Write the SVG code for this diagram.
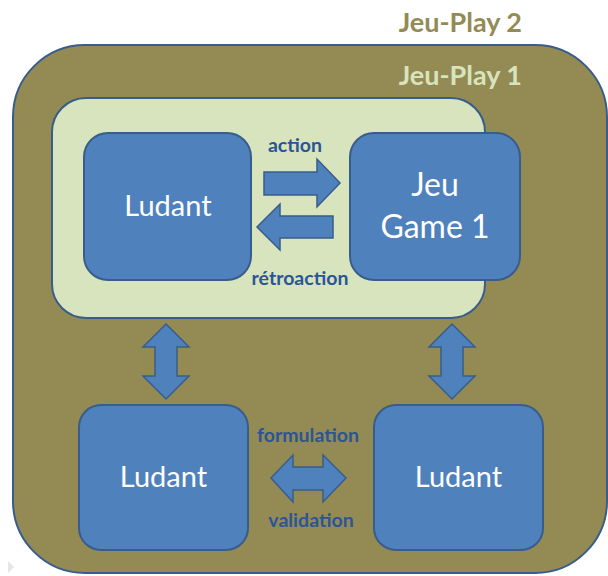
<svg xmlns="http://www.w3.org/2000/svg" width="608" height="576" viewBox="0 0 608 576">
<style>
.box{fill:#4F81BD;stroke:#385D8A;stroke-width:2}
.arr{fill:#4F81BD;stroke:#385D8A;stroke-width:1.5;stroke-linejoin:miter}
.lbl{font-family:Lato,"Open Sans",sans-serif;font-weight:bold;font-size:19.5px;fill:#2C5596;text-anchor:middle}
.nt{font-family:Lato,"Open Sans",sans-serif;font-size:29px;fill:#FFFFFF;text-anchor:middle}
.nt2{font-family:Lato,"Open Sans",sans-serif;font-size:32px;fill:#FFFFFF;text-anchor:middle}
.ttl{font-family:Lato,"Open Sans",sans-serif;font-weight:bold;font-size:27px;text-anchor:end}
</style>
<rect width="608" height="576" fill="#FFFFFF"/>
<g id="play2">
<rect x="13" y="45" width="594" height="528" rx="72" fill="#948A54" stroke="#385D8A" stroke-width="2"/>
<text class="ttl" x="522" y="32" fill="#948A54">Jeu-Play 2</text>
</g>
<g id="play1">
<rect x="52" y="98" width="433" height="220" rx="34" fill="#D7E4BD" stroke="#385D8A" stroke-width="2"/>
<text class="ttl" x="522" y="85" fill="#D7E4BD">Jeu-Play 1</text>
</g>
<g id="ludant1">
<rect class="box" x="84" y="133" width="167" height="147" rx="24"/>
<text class="nt" x="168" y="216">Ludant</text>
</g>
<g id="jeu">
<rect class="box" x="350" y="133" width="170" height="147" rx="24"/>
<text class="nt2" x="435" y="196">Jeu</text>
<text class="nt2" x="435" y="238">Game 1</text>
</g>
<g id="ludant2">
<rect class="box" x="79" y="405" width="169" height="145" rx="22"/>
<text class="nt" x="163.5" y="487">Ludant</text>
</g>
<g id="ludant3">
<rect class="box" x="374" y="405" width="169" height="145" rx="22"/>
<text class="nt" x="458.5" y="487">Ludant</text>
</g>
<g id="connectors">
<polygon class="arr" points="264,172 317,172 317,159 340,183 317,207 317,195 264,195"/>
<polygon class="arr" points="333,216 280,216 280,204 257,227 280,250 280,238 333,238"/>
<polygon class="arr" points="166,324 189,347 177,347 177,376 189,376 166,399 143,376 155,376 155,347 143,347"/>
<polygon class="arr" points="452,324 475,347 463,347 463,376 475,376 452,399 429,376 441,376 441,347 429,347"/>
<polygon class="arr" points="271,478 293,455 293,467 323,467 323,455 346,478 323,502 323,490 293,490 293,502"/>
<text class="lbl" x="295" y="152">action</text>
<text class="lbl" x="300" y="285">rétroaction</text>
<text class="lbl" x="308" y="442">formulation</text>
<text class="lbl" x="311" y="527">validation</text>
</g>
<polygon points="8,561 14,567 8,573" fill="#E6E6E6"/>
</svg>
